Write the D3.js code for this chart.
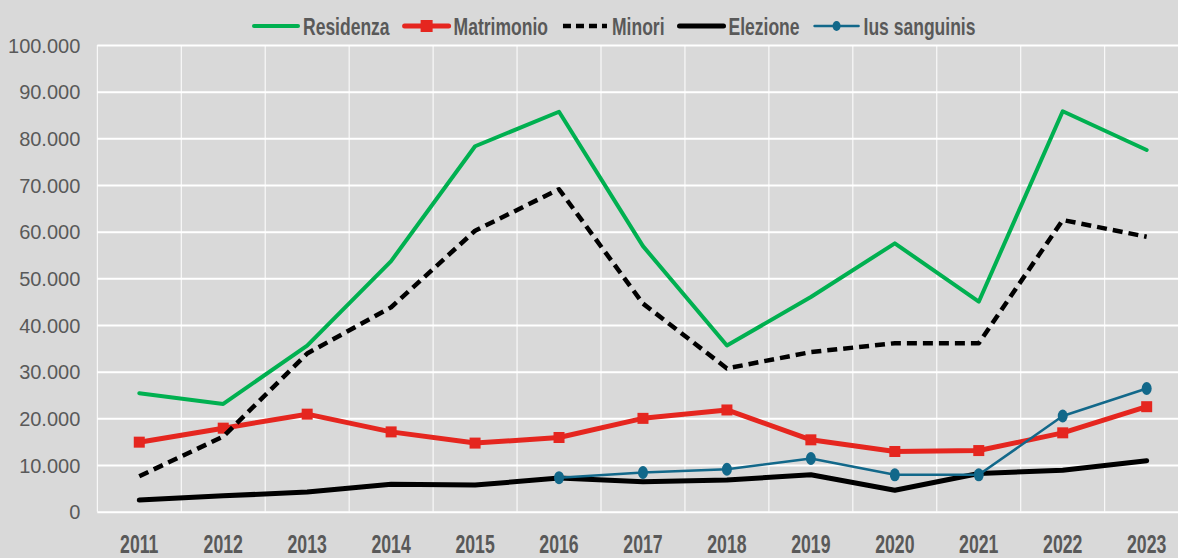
<!DOCTYPE html>
<html>
<head>
<meta charset="utf-8">
<script src="https://cdn.jsdelivr.net/npm/d3@7"></script>
<style>
  html, body { margin: 0; padding: 0; background: #d9d9d9; }
  svg { display: block; font-family: 'Liberation Sans', Arial, sans-serif; }
</style>
</head>
<body>
<div id="root"></div>
<script>
// Chart data.
const years = ['2011', '2012', '2013', '2014', '2015', '2016', '2017', '2018', '2019', '2020', '2021', '2022', '2023'];
const residenza = [25400, 23100, 35600, 53700, 78300, 85700, 56900, 35600, 46000, 57500, 45000, 85800, 77500];
const matrimonio = [14900, 17900, 20900, 17100, 14700, 15900, 20000, 21800, 15400, 12900, 13100, 16900, 22500];
const minori = [7600, 16100, 33900, 43800, 60200, 69100, 44600, 30700, 34200, 36100, 36100, 62500, 58900];
const elezione = [2500, 3400, 4200, 5900, 5700, 7200, 6400, 6800, 7900, 4600, 8200, 8900, 10900];
const iusSanguinis = [null, null, null, null, null, 7300, 8400, 9100, 11400, 7900, 7900, 20500, 26400];
const yTicks = [0, 10000, 20000, 30000, 40000, 50000, 60000, 70000, 80000, 90000, 100000];

const series = [
  { name: 'Residenza', values: residenza, color: '#00b050', width: 4, dash: null, marker: null },
  { name: 'Matrimonio', values: matrimonio, color: '#e5261f', width: 5, dash: null, marker: 'square' },
  { name: 'Minori', values: minori, color: '#000000', width: 4.5, dash: '10,6', marker: null },
  { name: 'Elezione', values: elezione, color: '#000000', width: 5, dash: null, marker: null },
  { name: 'Ius sanguinis', values: iusSanguinis, color: '#12688a', width: 2.5, dash: null, marker: 'ellipse' }
];

let width = 1178;
let height = 558;
let plotLeft = 97.3;
let band = 83.95;
let plotTop = 45;
let plotBottom = 511.7;

const it = d3.formatLocale({ decimal: ',', thousands: '.', grouping: [3], currency: ['€', ''] });

let svg = d3.select('#root')
  .append('svg')
  .attr('width', width)
  .attr('height', height);

svg.append('rect').attr('width', width).attr('height', height).attr('fill', '#d9d9d9');

let xScale = d3.scaleBand()
  .domain(years)
  .range([plotLeft, plotLeft + band * years.length]);

let yScale = d3.scaleLinear()
  .domain([0, 100000])
  .range([plotBottom, plotTop]);

// Vertical grid lines at the category boundaries.
svg.append('g')
  .selectAll('line')
  .data(years)
  .enter()
  .append('line')
  .attr('x1', d => xScale(d))
  .attr('x2', d => xScale(d))
  .attr('y1', plotTop)
  .attr('y2', plotBottom)
  .attr('stroke', '#ffffff')
  .attr('stroke-width', 1);

// Y axis with horizontal grid lines.
let yAxis = d3.axisLeft(yScale)
  .tickValues(yTicks)
  .tickSize(-(width - plotLeft + 20))
  .tickPadding(17)
  .tickFormat(it.format(',d'));

let gy = svg.append('g')
  .attr('transform', `translate(${plotLeft}, 0)`)
  .call(yAxis);
gy.select('.domain').remove();
gy.selectAll('line').attr('stroke', '#ffffff').attr('stroke-width', 2);
gy.selectAll('text')
  .attr('fill', '#595959')
  .attr('font-size', 20)
  .attr('dy', '0.36em');

// X axis labels.
let xAxis = d3.axisBottom(xScale).tickSize(0);
let gx = svg.append('g')
  .attr('transform', `translate(0, ${plotBottom})`)
  .call(xAxis);
gx.select('.domain').remove();
gx.selectAll('text')
  .attr('y', 41)
  .attr('dy', 0)
  .attr('fill', '#595959')
  .attr('font-size', 26)
  .attr('font-weight', 'bold')
  .attr('transform', 'scale(0.68,1)');

// Lines.
let cx = d => xScale(d) + xScale.bandwidth() / 2;

series.forEach(s => {
  let pts = years.map((y, i) => ({ year: y, value: s.values[i] }));
  let line = d3.line()
    .defined(d => d.value !== null)
    .x(d => cx(d.year))
    .y(d => yScale(d.value));

  svg.append('path')
    .datum(pts)
    .attr('d', line)
    .attr('fill', 'none')
    .attr('stroke', s.color)
    .attr('stroke-width', s.width)
    .attr('stroke-linejoin', 'round')
    .attr('stroke-linecap', s.dash ? 'butt' : 'round')
    .attr('stroke-dasharray', s.dash);

  let valid = pts.filter(d => d.value !== null);
  if (s.marker === 'square') {
    svg.append('g').selectAll('rect')
      .data(valid)
      .enter()
      .append('rect')
      .attr('x', d => cx(d.year) - 5.5)
      .attr('y', d => yScale(d.value) - 5.5)
      .attr('width', 11)
      .attr('height', 11)
      .attr('fill', s.color);
  } else if (s.marker === 'ellipse') {
    svg.append('g').selectAll('ellipse')
      .data(valid)
      .enter()
      .append('ellipse')
      .attr('cx', d => cx(d.year))
      .attr('cy', d => yScale(d.value))
      .attr('rx', 5)
      .attr('ry', 6.5)
      .attr('fill', s.color);
  }
});

// Legend.
let legend = svg.append('g').attr('transform', 'translate(254, 26)');
let lx = 0;
series.forEach(s => {
  let g = legend.append('g').attr('transform', `translate(${lx}, 0)`);
  g.append('line')
    .attr('x1', 0).attr('x2', 44)
    .attr('y1', 0).attr('y2', 0)
    .attr('stroke', s.color)
    .attr('stroke-width', s.width)
    .attr('stroke-dasharray', s.dash ? '8,5' : null)
    .attr('stroke-linecap', s.dash ? 'butt' : 'round');
  if (s.marker === 'square') {
    g.append('rect').attr('x', 16).attr('y', -6).attr('width', 12).attr('height', 12).attr('fill', s.color);
  } else if (s.marker === 'ellipse') {
    g.append('ellipse').attr('cx', 22).attr('cy', 0).attr('rx', 4).attr('ry', 5).attr('fill', s.color);
  }
  let t = g.append('text')
    .attr('x', 0)
    .attr('y', 9)
    .attr('fill', '#595959')
    .attr('font-size', 24)
    .attr('font-weight', 'bold')
    .attr('transform', 'translate(49, 0) scale(0.73,1)')
    .text(s.name);
  let w = t.node().getComputedTextLength() * 0.73;
  lx += 49 + w + 15;
});
</script>
</body>
</html>
